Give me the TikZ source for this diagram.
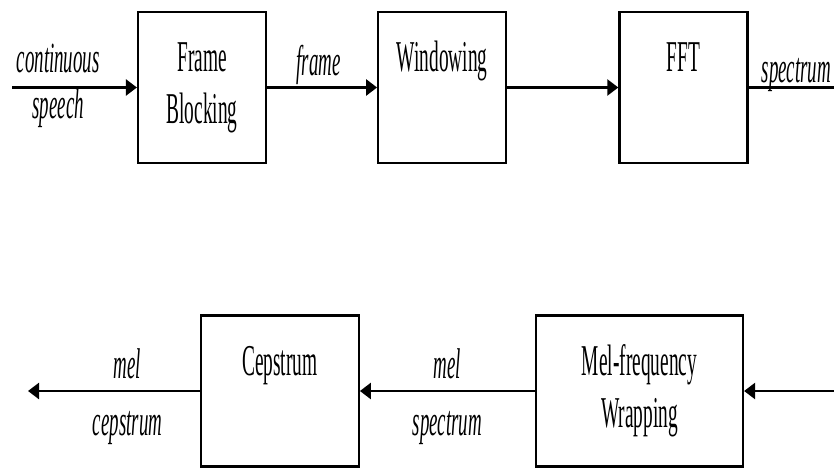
\documentclass[tikz,border=0pt]{standalone}
\usepackage{graphicx}
\usepackage{fontspec}
\setmainfont{Liberation Serif}
\usetikzlibrary{positioning,arrows.meta}

% narrow text, one or two lines
\newcommand{\sq}[1]{\scalebox{0.44}[1]{#1}}
\newcommand{\twolines}[2]{\sq{\begin{tabular}{@{}c@{}}#1\\#2\end{tabular}}}

\begin{document}
\begin{tikzpicture}[x=1pt,y=-1pt,
	block/.style={draw,line width=2.2pt,minimum height=151pt,inner sep=0pt,font=\fontsize{44}{52}\selectfont},
	lbl/.style={font=\fontsize{43}{52}\selectfont\itshape,inner sep=0pt,anchor=base},
	flow/.style={line width=2.5pt,-{Triangle[length=11pt,width=16pt]}}]
	\useasboundingbox (0,0) rectangle (834,468);
	% top row
	\node[block,minimum width=128pt] (fb) at (202,87.5) {\twolines{Frame}{Blocking}};
	\node[block,minimum width=128pt,right=110pt of fb] (win) {\twolines{Windowing}{\mbox{}}};
	\node[block,minimum width=128pt,right=111pt of win] (fft) {\twolines{FFT}{\mbox{}}};
	% bottom row
	\node[block,minimum width=207pt] (mel) at (639.5,391) {\twolines{Mel-frequency}{Wrapping}};
	\node[block,minimum width=158pt,left=175pt of mel] (cep) {\twolines{Cepstrum}{\mbox{}}};
	\coordinate (in) at (12,87.5);
	\coordinate (back) at (834,391);
	\coordinate (out) at (28,391);
	\draw[flow] (in) -- node[lbl,pos=0.37,yshift=15pt] (cont) {\sq{continuous}} node[lbl,pos=0.37,yshift=-31pt] (spch) {\sq{speech}} (fb.west);
	\draw[flow] (fb) -- node[lbl,pos=0.47,yshift=12pt] (frm) {\sq{frame}} (win);
	\draw[flow] (win) -- (fft);
	\draw[line width=2.5pt] (fft.east) -- node[lbl,pos=0.56,yshift=5pt] (spec) {\sq{spectrum}} (fft.east -| back);
	\draw[flow] (back) -- (mel.east);
	\draw[flow] (mel) -- node[lbl,yshift=13pt] (mel1) {\sq{mel}} node[lbl,yshift=-44pt] (mspec) {\sq{spectrum}} (cep);
	\draw[flow] (cep.west) -- node[lbl,pos=0.42,yshift=13pt] (mel2) {\sq{mel}} node[lbl,pos=0.42,yshift=-44pt] (ceps) {\sq{cepstrum}} (out);
\end{tikzpicture}
\end{document}
